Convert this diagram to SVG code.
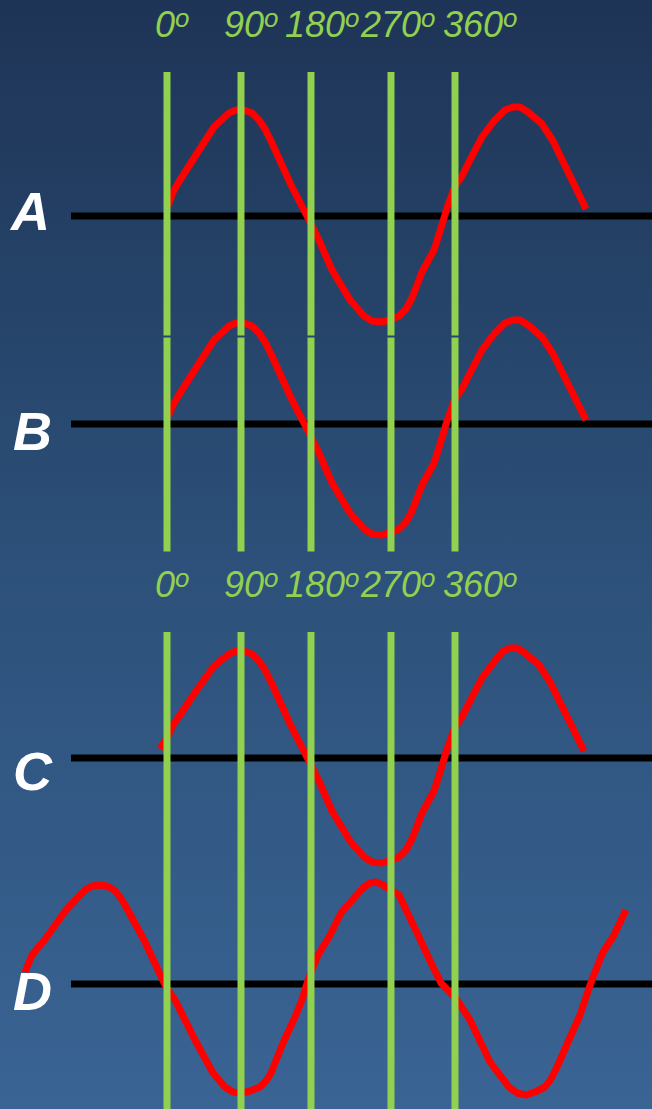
<svg xmlns="http://www.w3.org/2000/svg" width="652" height="1109" viewBox="0 0 652 1109">
<defs>
<linearGradient id="bg" x1="0" y1="0" x2="0" y2="1">
<stop offset="0" stop-color="#1e3456"/>
<stop offset="0.5" stop-color="#2c5079"/>
<stop offset="1" stop-color="#3a6494"/>
</linearGradient>
<style>
.deg{font-family:"Liberation Sans",Arial,sans-serif;font-style:italic;font-size:36px;fill:#92d050}
.sup{font-size:26px}
.lbl{font-family:"Liberation Sans",Arial,sans-serif;font-style:italic;font-weight:bold;font-size:54px;fill:#ffffff}
.axis{stroke:#000000;stroke-width:7}
.grid{fill:#92d050}
.wave{fill:none;stroke:#ff0000;stroke-width:7;stroke-linejoin:round;stroke-linecap:butt}
</style>
</defs>
<rect x="0" y="0" width="652" height="1109" fill="url(#bg)"/>

<g id="axes">
<line class="axis" x1="71" y1="216" x2="652" y2="216"/>
<line class="axis" x1="71" y1="424" x2="652" y2="424"/>
<line class="axis" x1="71" y1="758" x2="652" y2="758"/>
<line class="axis" x1="71" y1="984" x2="652" y2="984"/>
</g>

<g id="wave-A">
<path class="wave" d="M168,206 L173,192 L180,180 L196,155 L214,127 L229,113 L236,110 L244,110 L252,113 L259,120 L265,129 L271,141 L291,185 L310,222 L318,238 L332,270 L350,300 L364,316 L372,321 L381,322 L390,320 L399,316 L406,309 L412,298 L422,272 L434,250 L441,228 L447,208 L455,186 L462,176 L470,160 L482,137 L494,121 L505,110 L513,107 L520,107 L528,112 L542,124 L553,141 L586,209"/>
</g>

<g id="wave-B">
<path class="wave" transform="translate(0,213)" d="M168,204 L173,192 L180,180 L196,155 L214,127 L229,113 L236,110 L244,110 L252,113 L259,120 L265,129 L271,141 L291,185 L310,222 L318,238 L332,270 L350,300 L364,316 L372,321 L381,322 L390,320 L399,316 L406,309 L412,298 L422,272 L434,250 L441,228 L447,208 L455,186 L462,176 L470,160 L482,137 L494,121 L505,110 L513,107 L520,107 L528,112 L542,124 L553,141 L586,207"/>
</g>

<g id="wave-C">
<path class="wave" transform="translate(0,541)" d="M160,208 L168,195 L173,184 L180,174 L196,150 L214,125 L229,113 L236,110 L244,110 L252,113 L259,120 L265,129 L271,141 L291,185 L310,222 L318,238 L332,270 L350,300 L364,316 L372,321 L381,322 L390,320 L399,316 L406,309 L412,298 L422,272 L434,250 L441,228 L447,208 L455,186 L462,176 L470,160 L482,137 L494,121 L503,110 L511,107 L517,107 L525,112 L539,124 L550,141 L584,210"/>
</g>

<g id="wave-D">
<path class="wave" d="M25,972 L32,955 L46,938 L66,910 L85,890 L92,886 L100,885 L107,886 L114,890 L120,897 L125,905 L144,940 L166,987 L175,1000 L195,1040 L213,1073 L225,1087 L233,1092 L241,1093 L250,1091 L260,1087 L266,1081 L271,1073 L283,1043 L295,1017 L302,1000 L308,980 L318,955 L329,937 L341,913 L355,897 L364,887 L370,883 L376,882 L383,885 L389,889 L399,895 L418,935 L433,967 L441,983 L457,1000 L470,1020 L490,1062 L499,1074 L509,1087 L517,1093 L526,1095 L535,1092 L545,1087 L551,1079 L557,1067 L568,1042 L580,1015 L586,997 L593,977 L603,952 L613,937 L626,910"/>
</g>

<g id="grid-top">
<rect class="grid" x="163.5" y="72" width="7" height="263.5"/>
<rect class="grid" x="237.5" y="72" width="7" height="263.5"/>
<rect class="grid" x="307.5" y="72" width="7" height="263.5"/>
<rect class="grid" x="387.5" y="72" width="7" height="263.5"/>
<rect class="grid" x="451.5" y="72" width="7" height="263.5"/>
<rect class="grid" x="163.5" y="337.5" width="7" height="214"/>
<rect class="grid" x="237.5" y="337.5" width="7" height="214"/>
<rect class="grid" x="307.5" y="337.5" width="7" height="214"/>
<rect class="grid" x="387.5" y="337.5" width="7" height="214"/>
<rect class="grid" x="451.5" y="337.5" width="7" height="214"/>
</g>

<g id="grid-bottom">
<rect class="grid" x="163.5" y="632" width="7" height="477"/>
<rect class="grid" x="237.5" y="632" width="7" height="477"/>
<rect class="grid" x="307.5" y="632" width="7" height="477"/>
<rect class="grid" x="387.5" y="632" width="7" height="477"/>
<rect class="grid" x="451.5" y="632" width="7" height="477"/>
</g>

<g id="degrees-top">
<text class="deg" x="155" y="37">0<tspan class="sup" dy="-10">o</tspan></text>
<text class="deg" x="224" y="37">90<tspan class="sup" dy="-10">o</tspan></text>
<text class="deg" x="285" y="37">180<tspan class="sup" dy="-10">o</tspan></text>
<text class="deg" x="361" y="37">270<tspan class="sup" dy="-10">o</tspan></text>
<text class="deg" x="443" y="37">360<tspan class="sup" dy="-10">o</tspan></text>
</g>

<g id="degrees-bottom">
<text class="deg" x="155" y="597">0<tspan class="sup" dy="-10">o</tspan></text>
<text class="deg" x="224" y="597">90<tspan class="sup" dy="-10">o</tspan></text>
<text class="deg" x="285" y="597">180<tspan class="sup" dy="-10">o</tspan></text>
<text class="deg" x="361" y="597">270<tspan class="sup" dy="-10">o</tspan></text>
<text class="deg" x="443" y="597">360<tspan class="sup" dy="-10">o</tspan></text>
</g>

<g id="label-A"><text class="lbl" x="11" y="230">A</text></g>
<g id="label-B"><text class="lbl" x="13" y="450">B</text></g>
<g id="label-C"><text class="lbl" x="13" y="790">C</text></g>
<g id="label-D"><text class="lbl" x="13" y="1010">D</text></g>
</svg>
